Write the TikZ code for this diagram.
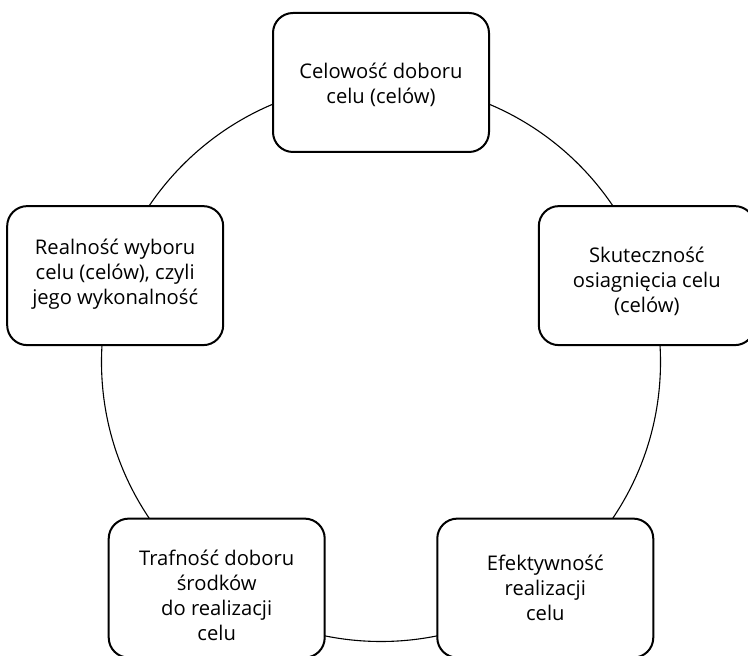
\documentclass[tikz,border=0pt]{standalone}
\usepackage{fontspec}
\setmainfont{Open Sans}
\usetikzlibrary{calc}
\begin{document}
\begin{tikzpicture}[x=1pt,y=1pt,
  stage/.style={draw=black, line width=2pt, fill=white, rounded corners=20pt,
    minimum width=216pt, minimum height=139pt, inner sep=0pt},
  stagetext/.style={align=center, inner sep=0pt,
    font=\fontsize{20.2pt}{25pt}\selectfont},
  ring/.style={draw=black, line width=1.1pt}]
  \useasboundingbox (0,0) rectangle (748,656);
  \clip (0,0) rectangle (748,656);
  \coordinate (c) at (381,294);
  % the cycle behind the five stages
  \draw[ring] (c) circle[radius=279.5pt];
  % the five stages, spaced evenly round the circle
  \node[stage] (s1) at ($(c)+(90:279.5)$) {};
  \node[stage] (s2) at ($(c)+(18:279.5)$) {};
  \node[stage] (s3) at ($(c)+(-54:279.5)$) {};
  \node[stage] (s4) at ($(c)+(234:279.5)$) {};
  \node[stage] (s5) at ($(c)+(162:279.5)$) {};
  \node[stagetext] (t1) at ([yshift=-2.5pt]s1.center) {Celowość doboru\\celu (celów)};
  \node[stagetext] (t2) at ([yshift=-6pt]s2.center) {Skuteczność\\osiagnięcia celu\\(celów)};
  \node[stagetext] (t3) at ([yshift=0pt]s3.center) {Efektywność\\realizacji\\celu};
  \node[stagetext] (t4) at ([yshift=-7pt]s4.center) {Trafność doboru\\środków\\do realizacji\\celu};
  \node[stagetext] (t5) at ([yshift=1.5pt]s5.center) {Realność wyboru\\celu (celów), czyli\\jego wykonalność};
\end{tikzpicture}
\end{document}
